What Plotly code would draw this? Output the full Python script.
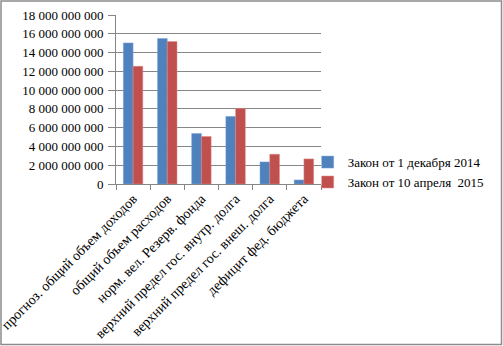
import plotly.graph_objects as go

categories = [
    "прогноз. общий объем доходов",
    "общий объем расходов",
    "норм. вел. Резерв. фонда",
    "верхний предел гос. внутр. долга",
    "верхний предел гос. внеш. долга",
    "дефицит фед. бюджета",
]
series_names = ["Закон от 1 декабря 2014", "Закон от 10 апреля  2015"]
values_dec2014 = [15030000000, 15500000000, 5380000000, 7200000000, 2350000000, 430000000]
values_apr2015 = [12540000000, 15170000000, 5060000000, 8050000000, 3170000000, 2670000000]
y_ticks = list(range(0, 18000000001, 2000000000))

W, H = 503, 346
ml, mr, mt, mb = 116, 182, 15, 162
pw, ph = W - ml - mr, H - mt - mb

FAM = "Times New Roman, Liberation Serif, DejaVu Serif, serif"
font = dict(family=FAM, size=13, color="#000000")

fig = go.Figure()
fig.add_trace(go.Bar(x=categories, y=values_dec2014, name=series_names[0],
                     marker=dict(color="#4F81BD", line=dict(color="#7FA6D6", width=0.5))))
fig.add_trace(go.Bar(x=categories, y=values_apr2015, name=series_names[1],
                     marker=dict(color="#C0504D", line=dict(color="#E08A88", width=0.5))))

fig.update_layout(
    width=W, height=H,
    margin=dict(l=ml, r=mr, t=mt, b=mb, pad=0, autoexpand=False),
    paper_bgcolor="white", plot_bgcolor="white",
    font=font,
    separators=", ",
    barmode="group", bargap=0.43, bargroupgap=0,
    showlegend=True,
    legend=dict(x=0.935, y=0.07, xanchor="left", yanchor="middle",
                font=dict(family=FAM, size=13, color="#000"),
                bgcolor="rgba(0,0,0,0)", itemwidth=30),
    xaxis=dict(type="category", tickangle=-45, showline=True, linecolor="#868686", linewidth=1,
               ticks="outside", ticklen=5, tickcolor="#868686", tickson="boundaries",
               tickfont=dict(family=FAM, size=14, color="#000"),
               showgrid=False, automargin=False),
    yaxis=dict(range=[0, 18000000000], tickvals=y_ticks, tickformat=",d",
               showline=True, linecolor="#868686", linewidth=1,
               ticks="outside", ticklen=7, tickcolor="#868686", ticklabelstandoff=2,
               showgrid=True, gridcolor="#868686", gridwidth=1, zeroline=False,
               tickfont=dict(family=FAM, size=13, color="#000"), automargin=False),
    shapes=[dict(type="rect", xref="paper", yref="paper",
                 x0=-(ml - 1) / pw, x1=1 + (mr - 1.5) / pw,
                 y0=-(mb - 1.5) / ph, y1=1 + (mt - 1) / ph,
                 line=dict(color="#8C8C8C", width=1.5), fillcolor="rgba(0,0,0,0)")],
)

fig.write_html("out.html", config={"displayModeBar": False},
               post_script="document.body.style.margin='0';document.body.style.padding='0';")
